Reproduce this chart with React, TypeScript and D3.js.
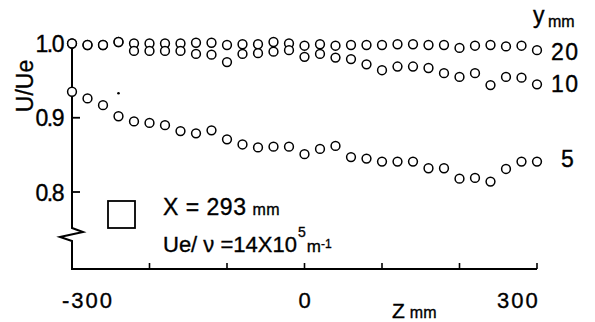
import React from "react";
import * as d3 from "d3";

// spanwise positions, Z in mm
const zValues = [
  -300, -280, -260, -240, -220, -200, -180, -160, -140, -120, -100, -80, -60, -40, -20,
  0, 20, 40, 60, 80, 100, 120, 140, 160, 180, 200, 220, 240, 260, 280, 300,
];

// U/Ue at y = 20 mm
const y20 = [
  1.0, 0.998, 0.998, 1.002, 1.0, 1.0, 1.0, 1.0, 1.001, 1.001, 0.998, 0.999, 0.999, 1.002, 1.0,
  0.997, 0.999, 0.997, 0.998, 0.998, 0.998, 0.999, 0.999, 0.998, 0.998, 0.994, 0.997, 0.998,
  0.996, 0.997, 0.991,
];

// U/Ue at y = 10 mm
const y10 = [
  1.0, 0.998, 0.998, 1.002, 0.99, 0.99, 0.99, 0.99, 0.986, 0.985, 0.975, 0.986, 0.987, 0.989,
  0.991, 0.982, 0.986, 0.981, 0.979, 0.972, 0.964, 0.969, 0.969, 0.967, 0.96, 0.955, 0.96,
  0.944, 0.955, 0.954, 0.945,
];

// U/Ue at y = 5 mm
const y5 = [
  0.935, 0.926, 0.917, 0.902, 0.895, 0.893, 0.89, 0.882, 0.879, 0.883, 0.871, 0.864, 0.86,
  0.861, 0.861, 0.851, 0.858, 0.862, 0.847, 0.845, 0.841, 0.841, 0.841, 0.832, 0.832, 0.818,
  0.819, 0.814, 0.831, 0.841, 0.841,
];

const seriesLabels = ["20", "10", "5"];
const xTicks = [-300, 0, 300];
const xMinorTicks = [-200, -100, 0, 100, 200, 300];
const yTicks = [1.0, 0.9, 0.8];

// stray speck in the scan
const specks = [{ z: -240, v: 0.933 }];

const font = "'Liberation Sans', Arial, sans-serif";

const App = () => {
  const width = 595;
  const height = 322;

  const x = d3.scaleLinear().domain([-300, 300]).range([72, 537]);
  const y = d3.scaleLinear().domain([0.8, 1.0]).range([192, 43.5]);

  const x0 = x(-300);
  const yBase = 269;
  const breakY = 228;

  const axisPath = [
    `M${x0},${y(1.0)}`,
    `V${breakY}`,
    `L${x0 + 11},${breakY + 4}`,
    `L${x0 - 12},${breakY + 9}`,
    `L${x0},${breakY + 13}`,
    `V${yBase}`,
    `H${x(300)}`,
  ].join(" ");

  const series = [y20, y10, y5];

  // scanned print looks a bit heavier than the plain font
  const ink = { stroke: "#000", strokeWidth: 0.35 };

  return (
    <svg
      width={width}
      height={height}
      style={{ position: "absolute", left: 0, top: 0, background: "#fff" }}
      fontFamily={font}
    >
      <rect width={width} height={height} fill="#fff" />
      <path d={axisPath} fill="none" stroke="#000" strokeWidth={2} />

      {/* y ticks, pointing inward */}
      {yTicks.slice(1).map((t) => (
        <line key={t} x1={x0} x2={x0 + 8} y1={y(t)} y2={y(t)} stroke="#000" strokeWidth={1.8} />
      ))}
      {yTicks.map((t) => (
        <text
          key={t}
          x={63}
          y={y(t) + 8.5}
          textAnchor="end"
          fontSize={23}
          letterSpacing={-1.5}
          {...ink}
        >
          {t.toFixed(1)}
        </text>
      ))}
      <text
        transform={`translate(33,86) rotate(-90)`}
        textAnchor="middle"
        fontSize={23}
        {...ink}
      >
        U/Ue
      </text>

      {/* x ticks, pointing up */}
      {xMinorTicks.map((t) => (
        <line key={t} x1={x(t)} x2={x(t)} y1={yBase} y2={yBase - 6} stroke="#000" strokeWidth={1.6} />
      ))}
      <text x={62} y={308} fontSize={22} letterSpacing={2} {...ink}>
        {`-${Math.abs(xTicks[0])}`}
      </text>
      <text x={x(xTicks[1])} y={308} textAnchor="middle" fontSize={22} {...ink}>
        {xTicks[1]}
      </text>
      <text x={497} y={308} fontSize={22} letterSpacing={2} {...ink}>
        {xTicks[2]}
      </text>
      <text x={392} y={318} fontSize={21} {...ink}>
        Z
        <tspan dx={5} fontSize={16}>
          mm
        </tspan>
      </text>

      {/* series labels on the right */}
      <text x={533} y={23} fontSize={23} {...ink}>
        y
      </text>
      <text x={548} y={27} fontSize={16} {...ink}>
        mm
      </text>
      <text x={551} y={60} fontSize={23} letterSpacing={1.5} {...ink}>
        {seriesLabels[0]}
      </text>
      <text x={551} y={92} fontSize={23} letterSpacing={1.5} {...ink}>
        {seriesLabels[1]}
      </text>
      <text x={561} y={167} fontSize={23} {...ink}>
        {seriesLabels[2]}
      </text>

      {/* legend */}
      <rect x={108} y={201} width={27} height={27} fill="none" stroke="#000" strokeWidth={1.8} />
      <text x={163} y={215} fontSize={23} letterSpacing={0.5} {...ink}>
        X = 293
        <tspan dx={6} fontSize={16}>
          mm
        </tspan>
      </text>
      <text x={163} y={252} fontSize={22} {...ink}>
        Ue/ ν =14X10
        <tspan dx={1} dy={-15} fontSize={14}>
          5
        </tspan>
        <tspan dx={1} dy={15} fontSize={17}>
          m
        </tspan>
        <tspan dx={0} dy={-4} fontSize={12}>
          -1
        </tspan>
      </text>

      {/* data points */}
      {series.map((vals, si) => (
        <g key={si}>
          {vals.map((v, i) => (
            <circle
              key={i}
              cx={x(zValues[i])}
              cy={y(v)}
              r={4.4}
              fill="#fff"
              stroke="#000"
              strokeWidth={1.5}
            />
          ))}
        </g>
      ))}
      {specks.map((s, i) => (
        <circle key={i} cx={x(s.z)} cy={y(s.v)} r={1.3} fill="#000" />
      ))}
    </svg>
  );
};

export default App;
